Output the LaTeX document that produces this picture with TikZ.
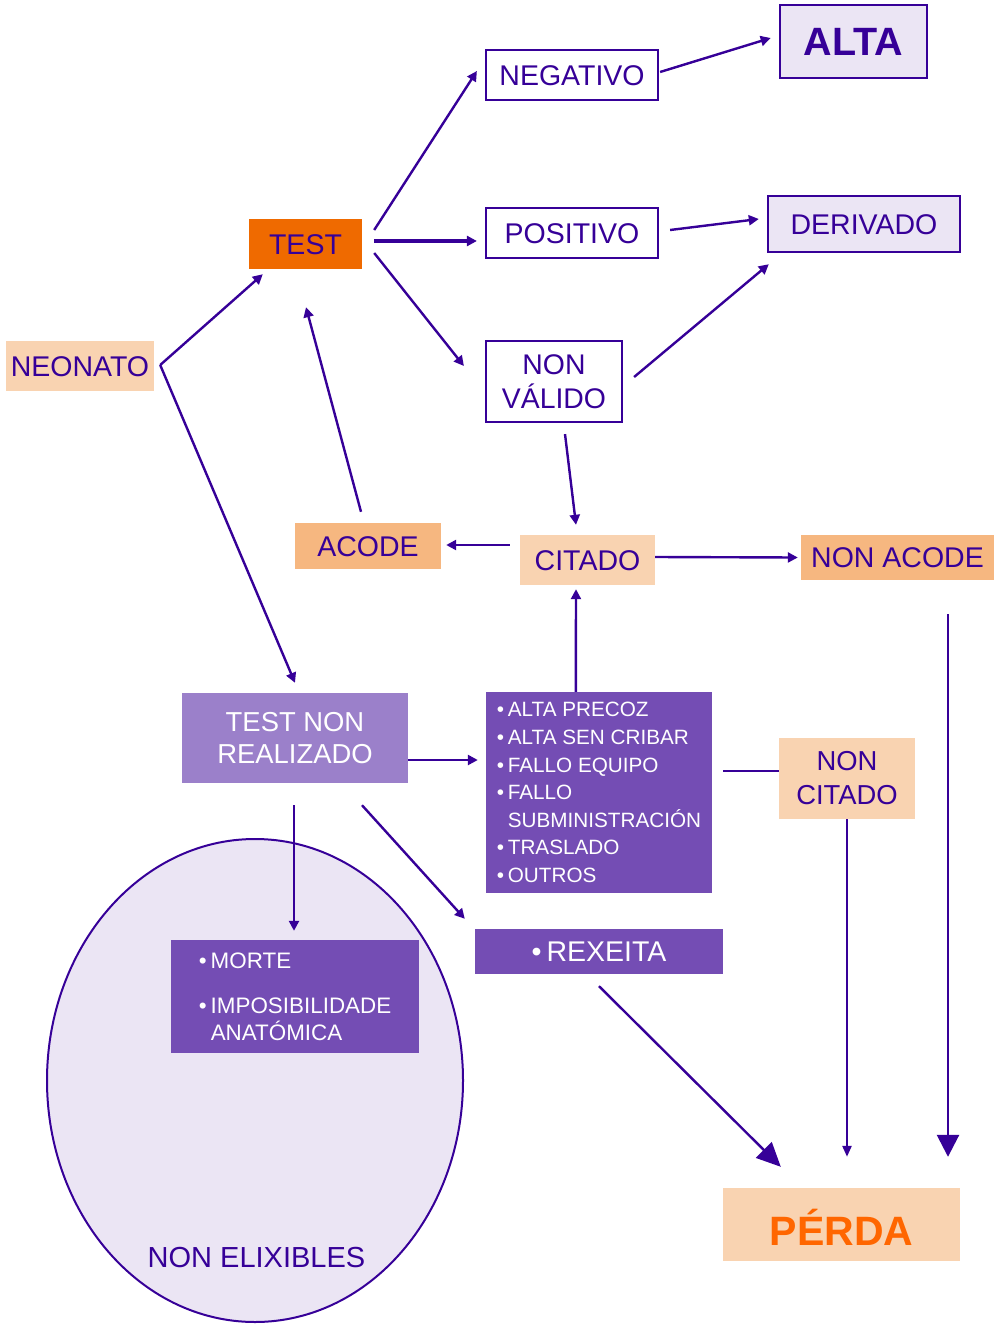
\documentclass[tikz,border=0pt]{standalone}
\usepackage{fontspec}
\setmainfont{Liberation Sans}
\usetikzlibrary{arrows.meta,calc,shapes.geometric}

\definecolor{ink}{HTML}{360098}
\definecolor{lav}{HTML}{EBE5F4}
\definecolor{peach}{HTML}{F9D3B1}
\definecolor{peachdark}{HTML}{F6B780}
\definecolor{testorange}{HTML}{EF6A00}
\definecolor{perdaorange}{HTML}{FF6600}
\definecolor{violetbox}{HTML}{744DB4}
\definecolor{lilac}{HTML}{9B80CA}

\newcommand\itembul[1][11pt]{\makebox[#1][l]{•}}

\tikzset{
  lbl/.style={font=\fontsize{28.5}{34}\selectfont, text=ink, inner sep=0pt,
              text height=20.4pt, text depth=0pt},
  twoline/.style={align=center, inner sep=0pt, text=ink},
  outlined/.style={draw=ink, line width=2.2pt, fill=white},
  lavbox/.style={draw=ink, line width=2.6pt, fill=lav},
  listbox/.style={fill=violetbox, text=white, align=left, inner sep=0pt},
  arr/.style={draw=ink, line width=2.4pt, -{Triangle[length=10pt,width=10pt]}},
  bigarr/.style={draw=ink, line width=2.4pt, -{Triangle[length=24pt,width=22pt]}},
}

\begin{document}
\begin{tikzpicture}[x=1pt,y=-1pt]
\useasboundingbox (0,0) rectangle (994,1324);

% group of non-eligible cases
\node[ellipse, draw=ink, fill=lav, line width=2pt, minimum width=416pt,
      minimum height=483pt, inner sep=0pt] (elix) at (255,1080.5) {};
\node[font=\fontsize{29}{34}\selectfont, text=ink, inner sep=0pt, anchor=base]
      (elixlabel) at (256.5,1267) {NON ELIXIBLES};

% main boxes
\node[lbl, fill=peach, minimum width=148pt, minimum height=50pt] (neonato) at (80,366) {NEONATO};
\node[lbl, fill=testorange, minimum width=113pt, minimum height=50pt] (test) at (305.5,244) {TEST};
\node[lbl, outlined, minimum width=172pt, minimum height=50pt] (negativo) at (572,75) {NEGATIVO};
\node[lbl, outlined, minimum width=172pt, minimum height=50pt] (positivo) at (572,233) {POSITIVO};
\node[lbl, lavbox, font=\fontsize{39.5}{44}\bfseries, text height=28.3pt,
      minimum width=147pt, minimum height=73pt] (alta) at (853.5,41.5) {ALTA};
\node[lbl, lavbox, line width=2.4pt, minimum width=192pt, minimum height=56pt] (derivado) at (864,224) {DERIVADO};
\node[twoline, outlined, font=\fontsize{28.4}{34}\selectfont,
      minimum width=136pt, minimum height=81pt] (nonvalido) at (554,381.5) {NON\\VÁLIDO};
\node[lbl, fill=peachdark, minimum width=146pt, minimum height=46pt] (acode) at (368,546) {ACODE};
\node[lbl, fill=peach, minimum width=135pt, minimum height=50pt] (citado) at (587.5,560) {CITADO};
\node[lbl, fill=peachdark, minimum width=193pt, minimum height=45pt] (nonacode) at (897.5,557.5) {NON ACODE};
\node[twoline, fill=lilac, text=white, font=\fontsize{27.4}{32}\selectfont,
      minimum width=226pt, minimum height=90pt] (tnr) at (295,738) {TEST NON\\REALIZADO};
\node[listbox, font=\fontsize{20.7}{27.6}\selectfont,
      minimum width=226pt, minimum height=201pt] (causes) at (599,792.5)
  {\itembul ALTA PRECOZ\\
   \itembul ALTA SEN CRIBAR\\
   \itembul FALLO EQUIPO\\
   \itembul FALLO\\
   \hspace*{11pt}SUBMINISTRACIÓN\\
   \itembul TRASLADO\\
   \itembul OUTROS};
\node[twoline, fill=peach, font=\fontsize{27.4}{34}\selectfont,
      minimum width=136pt, minimum height=81pt] (noncitado) at (847,778.5) {NON\\CITADO};
\node[lbl, fill=violetbox, text=white, minimum width=248pt, minimum height=45pt]
      (rexeita) at (599,951.5) {\itembul[15pt]REXEITA};
\node[listbox, font=\fontsize{22.4}{27}\selectfont,
      minimum width=248pt, minimum height=113pt] (morte) at (295,996.5)
  {\itembul[12pt]MORTE\\[18pt]
   \itembul[12pt]IMPOSIBILIDADE\\
   \hspace*{12pt}ANATÓMICA};
\node[lbl, fill=peach, text=perdaorange, font=\fontsize{41}{46}\bfseries,
      text height=41pt, minimum width=237pt, minimum height=73pt] (perda) at (841.5,1224.5) {PÉRDA};

% connectors
\coordinate (split) at ($(neonato.east)+(6,-1)$);
\draw[arr] (split) -- ($(test.south west)+(14,5)$);
\draw[arr] (split) -- ($(tnr.north)+(0,-10)$);

\draw[arr] ($(test.east)+(12,-14)$) -- ($(negativo.west)+(-8,-4)$);
\draw[arr, line width=3.2pt] ($(test.east)+(12,-3)$) -- ($(positivo.west)+(-8,8)$);
\draw[arr] ($(test.east)+(12,9)$) -- ($(nonvalido.west)+(-21,-15.5)$);

\draw[arr] ($(negativo.east)+(1,-3)$) -- ($(alta.west)+(-8,-3.5)$);
\draw[arr] ($(positivo.east)+(11,-3)$) -- ($(derivado.west)+(-8,-5)$);
\draw[arr] ($(nonvalido.east)+(11,-4.5)$) -- ($(derivado.south west)+(2,11)$);
\draw[arr] ($(nonvalido.south)+(11,11)$) -- ($(citado.north)+(-11.5,-10)$);

\draw[arr] ($(acode.north)+(-7,-11)$) -- ($(test.south)+(0.5,38)$);
\draw[arr] ($(citado.west)+(-10,-15)$) -- ($(acode.east)+(5,-1)$);
\draw[arr] ($(citado.east)+(0,-3)$) -- ($(nonacode.west)+(-3,0)$);
\draw[arr] ($(causes.north west)+(90,0)$) -- ($(citado.south)+(-11.5,4)$);

\draw[arr] ($(tnr.east)+(0,22)$) -- ($(causes.west)+(-8,-32.5)$);
\draw[arr] ($(tnr.south)+(-1,22)$) -- ($(morte.north)+(-1,-9)$);
\draw[arr] ($(tnr.south)+(67,22)$) -- ($(rexeita.north west)+(-10,-10)$);

\draw[bigarr] ($(rexeita.south)+(0,12)$) -- ($(perda.north west)+(58,-21)$);
\draw[arr, -{Triangle[length=11pt,width=9pt]}] (noncitado.south) -- ($(perda.north)+(5.5,-31)$);
\draw[draw=ink, line width=2.7pt, -{Triangle[length=22pt,width=22pt]}]
      ($(nonacode.south)+(50.5,34)$) -- ($(perda.north)+(106.5,-31)$);
\draw[draw=ink, line width=2.4pt] ($(causes.east)+(11,-21.5)$) -- ($(noncitado.west)+(0,-7.5)$);
\end{tikzpicture}
\end{document}
